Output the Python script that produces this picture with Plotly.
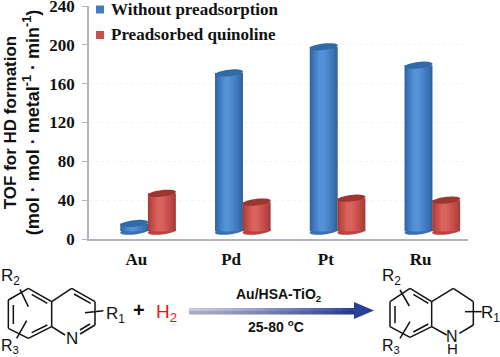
import numpy as np
import plotly.graph_objects as go

categories = ["Au", "Pd", "Pt", "Ru"]
without_preadsorption = [16, 171, 198, 179]
preadsorbed_quinoline = [47, 38, 42, 40]
y_ticks = [0, 40, 80, 120, 160, 200, 240]
series_names = ["Without preadsorption", "Preadsorbed quinoline"]

W, H = 500, 357
FLOOR = 8          # 3-D floor of the chart, in axis units
BAR_W = 0.295
OFFSETS = [-0.17, 0.122]
BLUES = ["#34659f", "#3a6fb0", "#4079bd", "#4682c8", "#4d8bd0", "#5491d6"]
REDS = ["#a83e3a", "#b64541", "#c24c48", "#cc524d", "#d45b56", "#d9635d"]
TOP_C = ["#306ba8", "#9c3633"]
NEST = [1.0, 0.86, 0.7, 0.54, 0.38, 0.22]
SHIFT = [0, -0.004, -0.008, -0.012, -0.016, -0.02]

def px(x): return x / W
def py(y): return 1 - y / H

fig = go.Figure()
shapes, annos = [], []

def ellipse_path(xc, yc, color, layer):
    a = BAR_W / 2
    t = np.linspace(0, 2 * np.pi, 37)
    xs = xc + a * np.cos(t)
    ys = yc + 1.6 * np.cos(t) + 3.4 * np.sin(t)
    p = "M " + " L ".join(f"{x:.4f},{y:.3f}" for x, y in zip(xs, ys)) + " Z"
    shapes.append(dict(type="path", path=p, xref="x", yref="y", fillcolor=color,
                       line=dict(width=0), layer=layer))

xs = list(range(len(categories)))
for s, (vals, cols) in enumerate(zip([without_preadsorption, preadsorbed_quinoline], [BLUES, REDS])):
    lengths = [v - FLOOR for v in vals]
    for i, (n, c, sh) in enumerate(zip(NEST, cols, SHIFT)):
        w = BAR_W * n
        off = OFFSETS[s] + (BAR_W - w) / 2 + sh
        fig.add_trace(go.Bar(x=xs, y=lengths, base=FLOOR, width=w, offset=off,
                             marker=dict(color=c, line=dict(width=0)),
                             name=series_names[s], showlegend=False, hoverinfo="skip"))
    for x, v in zip(xs, vals):
        xc = x + OFFSETS[s] + BAR_W / 2
        ellipse_path(xc, v, TOP_C[s], "above")
        ellipse_path(xc, FLOOR, cols[1], "below")

# legend (placed as in the reference)
for yy, c, name in zip([9.5, 35], ["#3f7cc4", "#c9504c"], series_names):
    shapes.append(dict(type="rect", xref="paper", yref="paper", x0=px(96), x1=px(104),
                       y0=py(yy + 4), y1=py(yy - 4), fillcolor=c, line=dict(width=0)))
    annos.append(dict(x=px(109), y=py(yy), xref="paper", yref="paper", text=f"<b>{name}</b>",
                      xanchor="left", yanchor="middle", showarrow=False,
                      font=dict(family="Liberation Serif", size=17, color="#111")))

def line(x0, y0, x1, y1, w=1.5, color="#111"):
    shapes.append(dict(type="line", xref="paper", yref="paper", x0=px(x0), y0=py(y0),
                       x1=px(x1), y1=py(y1), line=dict(color=color, width=w)))

def text(x, y, s, size=16, color="#111", bold=False, anchor="center"):
    annos.append(dict(x=px(x), y=py(y), xref="paper", yref="paper", text=s, xanchor=anchor,
                      yanchor="middle", showarrow=False,
                      font=dict(family="Liberation Sans", size=size, color=color,
                                weight=700 if bold else 400)))

def Z3(pts, dx=0, dy=250):
    """polyline from 3x zoom crop coordinates"""
    pp = [(x / 3 + dx, y / 3 + dy) for x, y in pts]
    for (a, b), (c, d) in zip(pp[:-1], pp[1:]):
        line(a, b, c, d)

# quinoline
Z3([(85, 115), (155, 155), (155, 230), (85, 265), (25, 235), (25, 150), (85, 115)])
Z3([(155, 155), (215, 115), (285, 155), (285, 225), (240, 252)])
Z3([(155, 230), (195, 255)])
Z3([(95, 133), (142, 160)]); Z3([(95, 248), (142, 225)]); Z3([(40, 165), (40, 222)])
Z3([(222, 132), (272, 160)]); Z3([(270, 222), (240, 240)])
Z3([(255, 188), (310, 182)]); Z3([(60, 118), (85, 170)]); Z3([(50, 265), (80, 212)])
text(72, 338, "N", 17)
text(115, 315, "R<sub>1</sub>", 17)
text(10, 277, "R<sub>2</sub>", 17)
text(10, 346, "R<sub>3</sub>", 16)
text(139, 310, "<b>+</b>", 20)
text(166, 313, "H<sub>2</sub>", 19, color="#e8161c", bold=False)

# reaction arrow
N = 36
c0, c1 = np.array([196, 200, 224]), np.array([38, 60, 150])
for i in range(N):
    f = i / N
    x0, x1 = 189 + (354 - 189) * f, 189 + (354 - 189) * (f + 1 / N) + 0.5
    c = c0 + (c1 - c0) * f ** 1.3
    d = c * 0.86
    for ya, yb, cc in [(308, 311, c), (311, 314.5, d)]:
        shapes.append(dict(type="rect", xref="paper", yref="paper", x0=px(x0), x1=px(x1), y0=py(yb),
                           y1=py(ya), fillcolor=f"rgb({cc[0]:.0f},{cc[1]:.0f},{cc[2]:.0f})", line=dict(width=0)))
shapes.append(dict(type="path", xref="paper", yref="paper",
                   path=f"M {px(354)},{py(302)} L {px(374)},{py(310.5)} L {px(354)},{py(319)} Z",
                   fillcolor="#2a3f96", line=dict(width=0)))
text(279, 295, "Au/HSA-TiO<sub>2</sub>", 14, bold=True)
text(276, 326, "25-80 <sup>o</sup>C", 14, bold=True)

# tetrahydroquinoline
D = 250
Z3([(480, 115), (545, 155), (545, 230), (480, 262), (420, 230), (420, 155), (480, 115)], dx=D)
Z3([(545, 155), (610, 115), (670, 155), (670, 225), (628, 250)], dx=D)
Z3([(545, 230), (590, 255)], dx=D)
Z3([(490, 133), (535, 160)], dx=D); Z3([(490, 246), (535, 222)], dx=D); Z3([(435, 168), (435, 220)], dx=D)
Z3([(645, 185), (695, 185)], dx=D); Z3([(450, 120), (478, 168)], dx=D); Z3([(450, 265), (480, 215)], dx=D)
text(452, 336, "N", 16)
text(452, 348, "H", 15)
text(490, 314, "R<sub>1</sub>", 17)
text(391, 277, "R<sub>2</sub>", 17)
text(391, 346, "R<sub>3</sub>", 16)

title = ('<span style="font-size:17px">TOF for HD formation</span><br>'
         "(mol · mol · metal<sup>-1</sup> · min<sup>-1</sup>)")

fig.update_layout(
    width=W, height=H, margin=dict(l=0, r=0, t=0, b=0, autoexpand=False),
    paper_bgcolor="white", plot_bgcolor="white", barmode="overlay", showlegend=False,
    shapes=shapes, annotations=annos,
    xaxis=dict(domain=[px(89), px(468)], range=[-0.5, 3.5], tickmode="array", tickvals=xs,
               ticktext=categories, showgrid=False, zeroline=False, showline=True, linecolor="#b4b4c0",
               linewidth=1.5, ticks="", ticklabelstandoff=4, automargin=False,
               tickfont=dict(family="Liberation Serif", size=17, color="#111", weight=700)),
    yaxis=dict(domain=[py(239), py(6)], range=[0, 240], tickmode="array", tickvals=y_ticks,
               showgrid=True, gridcolor="#f3f3f3", griddash="dot", zeroline=False, showline=True,
               linecolor="#b4b4c0", linewidth=1.5, ticks="outside", ticklen=5, tickcolor="#b4b4c0",
               ticklabelstandoff=4, ticklabeloverflow="allow", automargin=False,
               tickfont=dict(family="Liberation Serif", size=17, color="#111", weight=700),
               title=dict(text=title,
                          font=dict(family="Liberation Sans", size=18, color="#111", weight=700), standoff=5)),
)
fig.write_html("out.html", post_script="document.body.style.margin='0';", config=dict(displayModeBar=False))
